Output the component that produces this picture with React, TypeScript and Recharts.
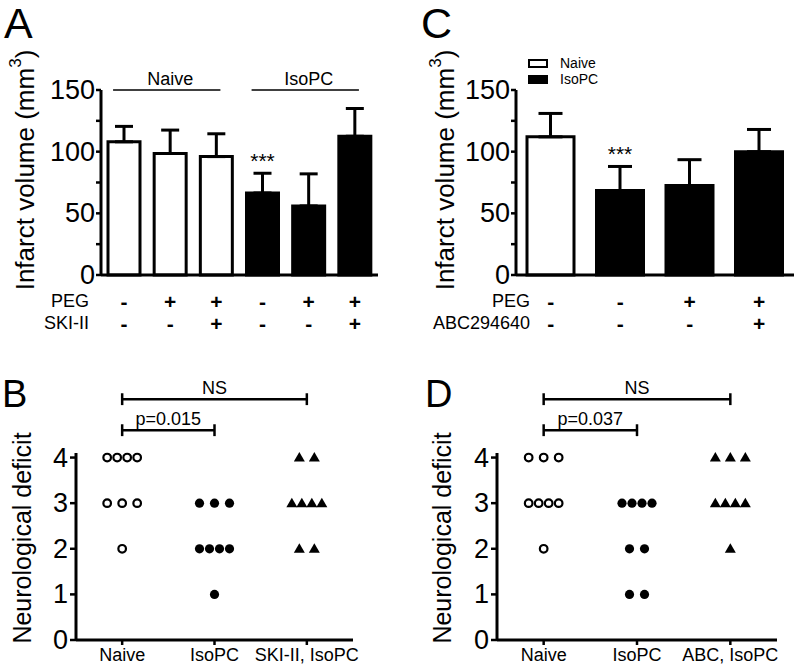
import React from "react";
import {
  BarChart,
  Bar,
  Cell,
  XAxis,
  YAxis,
  ErrorBar,
  ReferenceLine,
  LabelList,
  Legend,
  ScatterChart,
  Scatter,
} from "recharts";

const FONT = '"Liberation Sans", Arial, Helvetica, sans-serif';

// A: infarct volume, SKI-II
const groupA = ["Naive", "Naive", "Naive", "IsoPC", "IsoPC", "IsoPC"];
const volumeA = [108, 98.5, 96, 66.5, 56, 112.5];
const semA = [12.5, 19, 18.5, 16, 26, 22.5];
const pegA = ["-", "+", "+", "-", "+", "+"];
const skiA = ["-", "-", "+", "-", "-", "+"];
const starsA = ["", "", "", "***", "", ""];
const groupLinesA = [
  { label: "Naive", from: 0, to: 2 },
  { label: "IsoPC", from: 3, to: 5 },
];

// C: infarct volume, ABC294640
const groupC = ["Naive", "IsoPC", "IsoPC", "IsoPC"];
const volumeC = [112, 68.5, 72.5, 100];
const semC = [19, 19.5, 21, 18];
const pegC = ["-", "-", "+", "+"];
const abcC = ["-", "-", "-", "+"];
const starsC = ["", "***", "", ""];
const legendC = ["Naive", "IsoPC"];

const volumeTicks = [0, 25, 50, 75, 100, 125, 150];

// B / D: neurological deficit scores
const catsB = ["Naive", "IsoPC", "SKI-II, IsoPC"];
const naiveB = [4, 4, 4, 4, 3, 3, 3, 2];
const isoB = [3, 3, 3, 2, 2, 2, 2, 1];
const skiB = [4, 4, 3, 3, 3, 3, 2, 2];
const bracketsB = [
  { from: 1, to: 2, label: "p=0.015" },
  { from: 1, to: 3, label: "NS" },
];

const catsD = ["Naive", "IsoPC", "ABC, IsoPC"];
const naiveD = [4, 4, 4, 3, 3, 3, 3, 2];
const isoD = [3, 3, 3, 3, 2, 2, 1, 1];
const abcD = [4, 4, 4, 3, 3, 3, 3, 2];
const bracketsD = [
  { from: 1, to: 2, label: "p=0.037" },
  { from: 1, to: 3, label: "NS" },
];

const deficitTicks = [0, 1, 2, 3, 4];

const fillFor = (g: string) => (g === "Naive" ? "#fff" : "#000");

function SignTick(props: any) {
  const { x, y, rows, rowNames, rowLabelX } = props;
  const i = props.index ?? props.payload?.index ?? 0;
  return (
    <g>
      {rows.map((row: string[], r: number) => (
        <text
          key={r}
          x={x}
          y={y + 26 + r * 22}
          textAnchor="middle"
          dominantBaseline="central"
          fontFamily={FONT}
          fontSize={21}
          fontWeight="bold"
        >
          {row[i]}
        </text>
      ))}
      {i === 0 &&
        rowNames.map((name: string, r: number) => (
          <text
            key={name}
            x={rowLabelX}
            y={y + 26 + r * 22}
            textAnchor="end"
            dominantBaseline="central"
            fontFamily={FONT}
            fontSize={18}
          >
            {name}
          </text>
        ))}
    </g>
  );
}

function VolTick({ x, y, payload }: any) {
  if (payload.value % 50 !== 0) return <g />;
  return (
    <text x={x} y={y} textAnchor="end" dominantBaseline="central" fontFamily={FONT} fontSize={27}>
      {payload.value}
    </text>
  );
}

function VolTitle({ px, py }: any) {
  return (
    <text
      x={px}
      y={py}
      transform={`rotate(-90, ${px}, ${py})`}
      textAnchor="middle"
      dominantBaseline="central"
      fontFamily={FONT}
      fontSize={26}
    >
      Infarct volume (mm
      <tspan dy={-10} fontSize={17}>
        3
      </tspan>
      <tspan dy={10}>)</tspan>
    </text>
  );
}

function Stars(props: any) {
  const { x, y, width, height, value, index, sems, volumes } = props;
  if (!value) return null;
  const errTop = y - sems[index] * (height / volumes[index]);
  return (
    <text x={x + width / 2} y={errTop - 5} textAnchor="middle" fontFamily={FONT} fontSize={21}>
      {value}
    </text>
  );
}

// group line: a little left of the first bar centre to just past the last
const groupLine = (s: any) => (
  <line x1={s.x1 - 11} y1={s.y1} x2={s.x2 + 4} y2={s.y2} stroke="#000" strokeWidth={1.5} />
);

function LegendBox() {
  return (
    <div style={{ fontFamily: FONT, fontSize: 14, color: "#000" }}>
      {legendC.map((l) => (
        <div key={l} style={{ display: "flex", alignItems: "center", height: 16 }}>
          <span
            style={{
              display: "inline-block",
              width: 16,
              height: 5,
              border: "2.5px solid #000",
              background: fillFor(l),
              marginRight: 12,
            }}
          />
          <span>{l}</span>
        </div>
      ))}
    </div>
  );
}

type VolumeProps = {
  left: number;
  groups: string[];
  volumes: number[];
  sems: number[];
  rowNames: string[];
  rows: string[][];
  stars: string[];
  marginLeft: number;
  marginRight: number;
  barSize: number;
  capHalf: number;
  rowLabelX: number;
  titleX: number;
  groupLines?: { label: string; from: number; to: number }[];
  legend?: boolean;
};

function VolumePanel(p: VolumeProps) {
  const data = p.volumes.map((v, i) => ({
    id: `c${i}`,
    volume: v,
    err: [0, p.sems[i]],
    stars: p.stars[i],
  }));
  return (
    <div style={{ position: "absolute", left: p.left, top: 0 }}>
      <BarChart
        width={400}
        height={335}
        data={data}
        margin={{ top: 90, right: p.marginRight, bottom: 0, left: p.marginLeft }}
        barSize={p.barSize}
      >
        <XAxis
          dataKey="id"
          height={60}
          interval={0}
          tickLine={false}
          tickSize={0}
          tickMargin={0}
          axisLine={{ stroke: "#000", strokeWidth: 3 }}
          tick={(t: any) => (
            <SignTick {...t} rows={p.rows} rowNames={p.rowNames} rowLabelX={p.rowLabelX} />
          )}
        />
        <YAxis
          width={40}
          domain={[0, 150]}
          ticks={volumeTicks}
          interval={0}
          tickSize={5}
          tickMargin={1}
          tickLine={{ stroke: "#000", strokeWidth: 2.5 }}
          axisLine={{ stroke: "#000", strokeWidth: 3 }}
          tick={VolTick}
          label={<VolTitle px={p.titleX} py={170} />}
        />
        {(p.groupLines ?? []).map((g) => (
          <ReferenceLine
            key={g.label}
            segment={[
              { x: data[g.from].id, y: 150 },
              { x: data[g.to].id, y: 150 },
            ]}
            stroke="#000"
            strokeWidth={1.5}
            ifOverflow="visible"
            shape={groupLine}
            label={{
              value: g.label,
              position: "top",
              offset: 5,
              fontSize: 18,
              fontFamily: FONT,
              fill: "#000",
            }}
          />
        ))}
        {p.legend && (
          <Legend
            layout="horizontal"
            verticalAlign="middle"
            align="center"
            wrapperStyle={{ left: 128, top: 55, width: "auto" }}
            content={() => <LegendBox />}
          />
        )}
        <Bar dataKey="volume" stroke="#000" strokeWidth={3} isAnimationActive={false}>
          {data.map((d, i) => (
            <Cell key={d.id} fill={fillFor(p.groups[i])} />
          ))}
          <ErrorBar dataKey="err" width={p.capHalf} stroke="#000" strokeWidth={3} direction="y" />
          <LabelList
            dataKey="stars"
            content={(lp: any) => <Stars {...lp} sems={p.sems} volumes={p.volumes} />}
          />
        </Bar>
      </BarChart>
    </div>
  );
}

// spread tied scores sideways, like a column scatter
function spread(scores: number[], center: number, unitPx: number) {
  const counts: Record<number, number> = {};
  scores.forEach((s) => (counts[s] = (counts[s] || 0) + 1));
  const seen: Record<number, number> = {};
  return scores.map((s) => {
    const n = counts[s];
    const k = (seen[s] = (seen[s] ?? -1) + 1);
    const half = Math.min((n - 1) * 7.5, 15);
    const off = n === 1 ? 0 : -half + (2 * half * k) / (n - 1);
    return { x: center + off / unitPx, y: s };
  });
}

const openCircle = (s: any) => (
  <circle cx={s.cx} cy={s.cy} r={3.8} fill="none" stroke="#000" strokeWidth={2.2} />
);
const dot = (s: any) => <circle cx={s.cx} cy={s.cy} r={4.6} fill="#000" />;
const triangle = (s: any) => (
  <path
    d={`M${s.cx},${s.cy - 5.5} L${s.cx + 5.5},${s.cy + 4} L${s.cx - 5.5},${s.cy + 4} Z`}
    fill="#000"
  />
);

function CatTick({ x, y, payload, cats }: any) {
  return (
    <text x={x} y={y + 10} textAnchor="middle" dominantBaseline="central" fontFamily={FONT} fontSize={18}>
      {cats[payload.value - 1]}
    </text>
  );
}

function DefTick({ x, y, payload }: any) {
  return (
    <text x={x} y={y} textAnchor="end" dominantBaseline="central" fontFamily={FONT} fontSize={27}>
      {payload.value}
    </text>
  );
}

function DefTitle({ px, py }: any) {
  return (
    <text
      x={px}
      y={py}
      transform={`rotate(-90, ${px}, ${py})`}
      textAnchor="middle"
      dominantBaseline="central"
      fontFamily={FONT}
      fontSize={25}
    >
      Neurological deficit
    </text>
  );
}

type DeficitProps = {
  left: number;
  cats: string[];
  groups: number[][];
  brackets: { from: number; to: number; label: string }[];
  marginLeft: number;
  marginRight: number;
  titleX: number;
};

function DeficitPanel(p: DeficitProps) {
  const unitPx = (400 - p.marginLeft - 40 - p.marginRight) / 3;
  const shapes = [openCircle, dot, triangle];
  return (
    <div style={{ position: "absolute", left: p.left, top: 335 }}>
      <ScatterChart
        width={400}
        height={334}
        margin={{ top: 118, right: p.marginRight, bottom: 0, left: p.marginLeft }}
      >
        <XAxis
          type="number"
          dataKey="x"
          domain={[0.5, 3.5]}
          ticks={[1, 2, 3]}
          interval={0}
          height={29}
          tickSize={5}
          tickMargin={0}
          allowDataOverflow
          tickLine={{ stroke: "#000", strokeWidth: 2.5 }}
          axisLine={{ stroke: "#000", strokeWidth: 3 }}
          tick={(t: any) => <CatTick {...t} cats={p.cats} />}
        />
        <YAxis
          type="number"
          dataKey="y"
          domain={[0, 4.1]}
          ticks={deficitTicks}
          interval={0}
          width={40}
          tickSize={6}
          tickMargin={2}
          tickLine={{ stroke: "#000", strokeWidth: 2.5 }}
          axisLine={{ stroke: "#000", strokeWidth: 3 }}
          tick={DefTick}
          label={<DefTitle px={p.titleX} py={203} />}
        />
        {p.brackets.map((b, i) => {
          const level = 4.6 + i * 0.68;
          return (
            <React.Fragment key={b.label}>
              <ReferenceLine
                segment={[
                  { x: b.from, y: level },
                  { x: b.to, y: level },
                ]}
                stroke="#000"
                strokeWidth={2.5}
                ifOverflow="visible"
                label={{
                  value: b.label,
                  position: "top",
                  offset: 5,
                  fontSize: 18,
                  fontFamily: FONT,
                  fill: "#000",
                }}
              />
              {[b.from, b.to].map((end) => (
                <ReferenceLine
                  key={end}
                  segment={[
                    { x: end, y: level - 0.13 },
                    { x: end, y: level + 0.13 },
                  ]}
                  stroke="#000"
                  strokeWidth={2.5}
                  ifOverflow="visible"
                />
              ))}
            </React.Fragment>
          );
        })}
        {p.groups.map((scores, g) => (
          <Scatter
            key={g}
            data={spread(scores, g + 1, unitPx)}
            shape={shapes[g]}
            isAnimationActive={false}
          />
        ))}
      </ScatterChart>
    </div>
  );
}

const letterStyle = (left: number, top: number, size: number): React.CSSProperties => ({
  position: "absolute",
  left,
  top,
  fontFamily: FONT,
  fontSize: size,
  lineHeight: 1,
  color: "#000",
});

export default function App() {
  return (
    <div
      style={{
        position: "absolute",
        left: 0,
        top: 0,
        width: 800,
        height: 669,
        background: "#fff",
        overflow: "hidden",
      }}
    >
      <VolumePanel
        left={0}
        groups={groupA}
        volumes={volumeA}
        sems={semA}
        rowNames={["PEG", "SKI-II"]}
        rows={[pegA, skiA]}
        stars={starsA}
        marginLeft={61}
        marginRight={22}
        barSize={32}
        capHalf={9}
        rowLabelX={89}
        titleX={25}
        groupLines={groupLinesA}
      />
      <VolumePanel
        left={400}
        groups={groupC}
        volumes={volumeC}
        sems={semC}
        rowNames={["PEG", "ABC294640"]}
        rows={[pegC, abcC]}
        stars={starsC}
        marginLeft={76}
        marginRight={6}
        barSize={47}
        capHalf={12}
        rowLabelX={130}
        titleX={45}
        legend
      />
      <DeficitPanel
        left={0}
        cats={catsB}
        groups={[naiveB, isoB, skiB]}
        brackets={bracketsB}
        marginLeft={36}
        marginRight={47}
        titleX={22}
      />
      <DeficitPanel
        left={400}
        cats={catsD}
        groups={[naiveD, isoD, abcD]}
        brackets={bracketsD}
        marginLeft={57}
        marginRight={23}
        titleX={42}
      />
      <div style={letterStyle(4, 2, 43)}>A</div>
      <div style={letterStyle(421, 2, 43)}>C</div>
      <div style={letterStyle(2, 375, 38)}>B</div>
      <div style={letterStyle(425, 375, 38)}>D</div>
    </div>
  );
}
